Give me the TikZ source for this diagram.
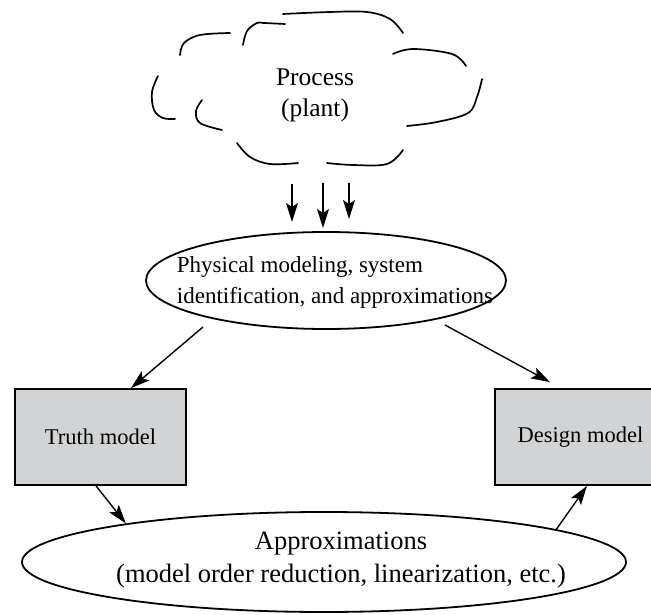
\documentclass[tikz,border=0pt]{standalone}
\usepackage{fontspec}
\setmainfont{Liberation Serif}
\usetikzlibrary{arrows.meta,shapes.geometric}
\definecolor{boxgray}{RGB}{209,211,212}
\begin{document}
\begin{tikzpicture}[x=1pt,y=-1pt,
  arr/.style={-{Stealth[length=19pt,width=12pt,inset=4pt]}, line width=1.4pt},
  cloudline/.style={line width=1.7pt, line cap=round},
  modelbox/.style={draw, line width=1.8pt, fill=boxgray, minimum width=171pt,
    minimum height=96pt, inner sep=0pt, font=\fontsize{22.5}{27}\selectfont},
  oval/.style={draw, ellipse, line width=1.8pt, inner sep=0pt},
  lbl/.style={inner sep=0pt}]
\clip (0,0) rectangle (651,615);

% the cloud, drawn as broken hand-drawn strokes
\draw[cloudline] plot[smooth, tension=0.6] coordinates {(283,14) (330,12) (367,12) (390,19) (403,33)};
\draw[cloudline] plot[smooth, tension=0.6] coordinates {(243,45) (247,31) (257,23) (264,23) (285,24)};
\draw[cloudline] plot[smooth, tension=0.6] coordinates {(180,55) (184,43) (200,35) (230,33)};
\draw[cloudline] plot[smooth, tension=0.6] coordinates {(158,76) (152,92) (154,110) (163,118) (175,119)};
\draw[cloudline] plot[smooth, tension=0.6] coordinates {(202,100) (196,111) (200,123) (222,130)};
\draw[cloudline] plot[smooth, tension=0.6] coordinates {(237,143) (250,157) (270,164) (298,163)};
\draw[cloudline] plot[smooth, tension=0.6] coordinates {(327,163) (353,165) (387,164) (403,150)};
\draw[cloudline] plot[smooth, tension=0.6] coordinates {(393,54) (413,49) (452,54) (466,66)};
\draw[cloudline] plot[smooth, tension=0.6] coordinates {(482,79) (477,97) (468,113) (437,122) (407,126)};

\node[lbl, align=center, font=\fontsize{25.5}{31}\selectfont] (process) at (315,95) {Process\\(plant)};

% ellipses
\node[oval, minimum width=360pt, minimum height=97pt] (phys) at (326,280.5) {};
\node[lbl, align=left, font=\fontsize{23}{31}\selectfont] (physlbl) at (335,282)
  {Physical modeling, system\\identification, and approximations};

\node[oval, minimum width=604pt, minimum height=100pt] (approx) at (324,562) {};
\node[lbl, align=center, font=\fontsize{26.5}{33}\selectfont] (approxlbl) at (341,560)
  {Approximations\\(model order reduction, linearization, etc.)};

% models
\node[modelbox] (truth) at (100.5,437) {Truth model};
\node[modelbox] (design) at (580.5,437) {Design model};

% flow from the process to the modeling step
\coordinate (d1s) at (292,184); \coordinate (d1e) at (292,222);
\coordinate (d2s) at (323,183); \coordinate (d2e) at (323,228);
\coordinate (d3s) at (349,183); \coordinate (d3e) at (349,219);
\draw[arr] (d1s) -- (d1e);
\draw[arr] (d2s) -- (d2e);
\draw[arr] (d3s) -- (d3e);

% modeling step to the two models
\coordinate (pl) at ([shift={(-123,46.5)}]phys.center);
\coordinate (pr) at ([shift={(119,44.5)}]phys.center);
\draw[arr] (pl) -- ([xshift=30.5pt]truth.north);
\draw[arr] (pr) -- ([xshift=-30.5pt,yshift=6pt]design.north);

% truth model through the approximations to the design model
\draw[arr] ([xshift=-4.5pt]truth.south) -- (approx.169.6);
\draw[arr] (approx.8.2) -- ([xshift=6.5pt]design.south);
\end{tikzpicture}
\end{document}
